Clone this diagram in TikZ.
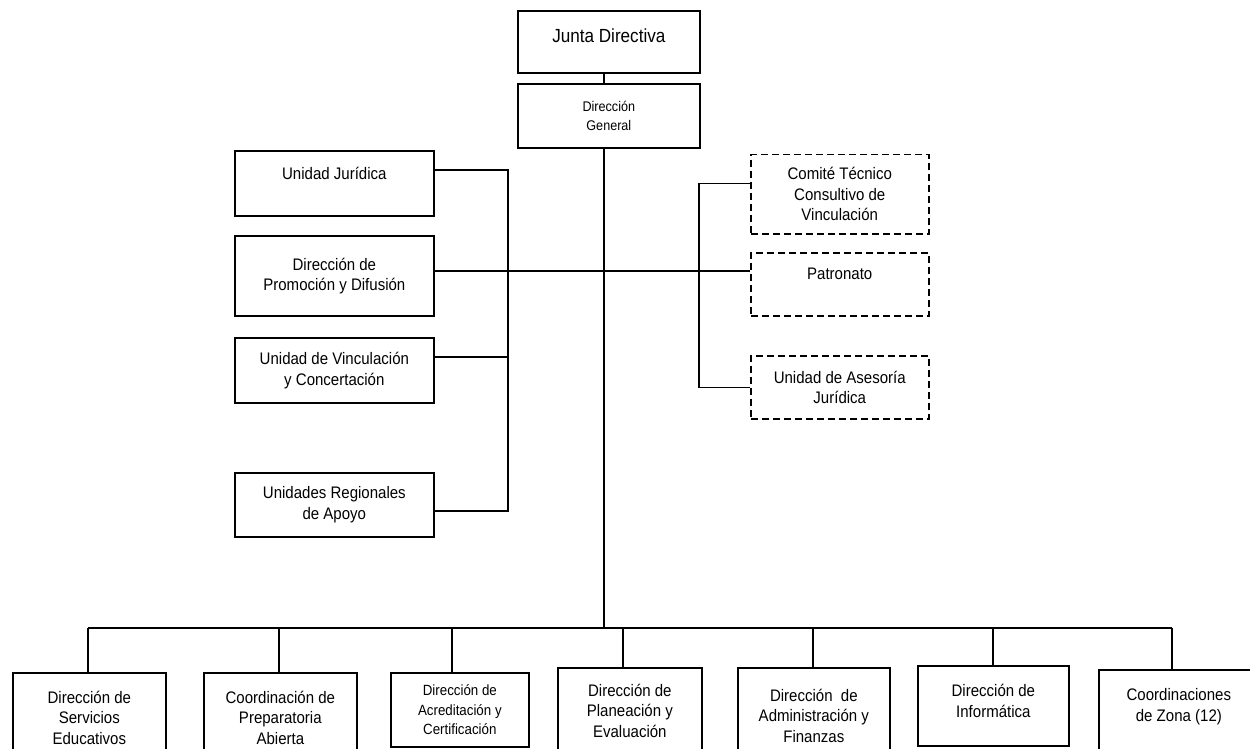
\documentclass[tikz,border=0pt]{standalone}
\usepackage{fontspec}
\setmainfont{Liberation Sans}[FakeStretch=0.9]
\begin{document}
\begin{tikzpicture}[x=1pt,y=-1pt,
  box/.style={draw, line width=1.7pt, align=center, inner sep=2pt, anchor=north west,
    font=\fontsize{16.7}{20.5}\selectfont},
  dbox/.style={box, dash pattern=on 7pt off 4pt, line width=1.5pt},
  wire/.style={line width=1.4pt},
  trunk/.style={line width=2pt}]
\clip (0,0) rectangle (1250,749);
\fill[white] (0,0) rectangle (1250,749);

% top
\node[box, minimum width=182pt, minimum height=62pt, font=\fontsize{19}{22}\selectfont,
  text height=13.5pt, text depth=13pt] (jd) at (517,10) {Junta Directiva};
\node[box, minimum width=182pt, minimum height=64pt, font=\fontsize{14}{18.5}\selectfont] (dg) at (517,83) {Dirección\\General};

% left staff units
\node[box, minimum width=199pt, minimum height=65pt, text height=12pt, text depth=19.5pt] (uj) at (234,150) {Unidad Jurídica};
\node[box, minimum width=199pt, minimum height=80pt] (dp) at (234,235) {Dirección de\\Promoción y Difusión};
\node[box, minimum width=199pt, minimum height=65pt] (vu) at (234,337) {Unidad de Vinculación\\y Concertación};
\node[box, minimum width=199pt, minimum height=64pt] (ur) at (234,472) {Unidades Regionales\\de Apoyo};

% right dashed units
\node[dbox, minimum width=178pt, minimum height=79pt] (ct) at (750,154) {Comité Técnico\\Consultivo de\\Vinculación};
\node[dbox, minimum width=178pt, minimum height=63pt, text height=12pt, text depth=21.5pt] (pa) at (750,252) {Patronato};
\node[dbox, minimum width=178pt, minimum height=63pt] (ua) at (750,355) {Unidad de Asesoría\\Jurídica};

% bottom row
\node[box, minimum width=153pt, minimum height=90pt] (b1) at (12,672) {Dirección de\\Servicios\\Educativos};
\node[box, minimum width=153pt, minimum height=90pt] (b2) at (203,672) {Coordinación de\\Preparatoria\\Abierta};
\node[box, minimum width=138pt, minimum height=74pt, font=\fontsize{14.8}{19.5}\selectfont] (b3) at (390,672) {Dirección de\\Acreditación y\\Certificación};
\node[box, minimum width=144pt, minimum height=86pt] (b4) at (557,667) {Dirección de\\Planeación y\\Evaluación};
\node[box, minimum width=152pt, minimum height=96pt] (b5) at (737,667) {Dirección~ de\\Administración y\\Finanzas};
\node[box, minimum width=151pt, minimum height=80pt] (b6) at (917,665) {Dirección de\\Informática\\[-10.5pt]};
\node[box, minimum width=160pt, minimum height=80pt] (b7) at (1098,669) {Coordinaciones\\de Zona (12)\\[-10.5pt]};

% trunk
\coordinate (T) at (604,0);
\draw[trunk] (jd.south -| T) -- (dg.north -| T);
\coordinate (busL) at (88,628);
\coordinate (busR) at (1172,628);
\draw[trunk] (dg.south -| T) -- (T |- busL);
\draw[wire] (busL) -- (busR);

% drops
\foreach \n/\x in {b1/88, b2/279, b3/452, b4/623, b5/813, b6/993, b7/1172}{
  \coordinate (d\n) at (\x,628);
  \draw[wire] (d\n) -- (d\n |- \n.north);
}

% left connectors
\coordinate (L) at (508,0);
\coordinate (ujo) at ([yshift=13.5pt]uj.east);
\coordinate (uro) at ([yshift=-6pt]ur.east);
\coordinate (vuo) at ([yshift=13.5pt]vu.east);
\coordinate (dpo) at ([yshift=5pt]dp.east);
\draw[wire] (ujo) -| (L |- uro) -- (uro);
\draw[wire] (vuo) -- (L |- vuo);
\draw[wire] (dpo) -- (pa.west |- dpo);

% right connectors
\coordinate (R) at (699,0);
\coordinate (cto) at ([yshift=10.5pt]ct.west);
\draw[wire] (cto) -| (R |- ua.west) -- (ua.west);
\end{tikzpicture}
\end{document}
